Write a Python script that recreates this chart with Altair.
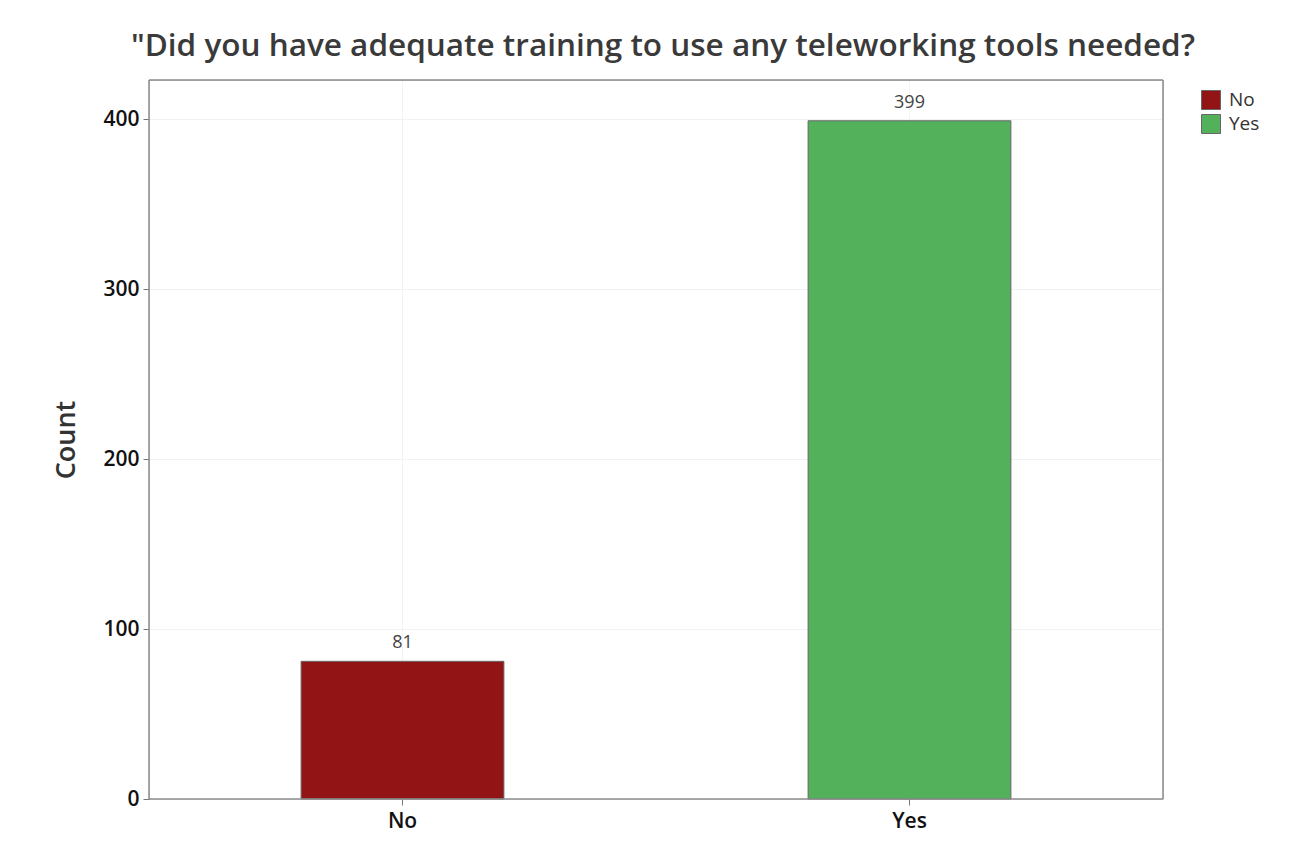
import altair as alt
import pandas as pd

categories = ["No", "Yes"]
counts = [81, 399]
colors = ["#921414", "#53b05b"]

df = pd.DataFrame({"answer": categories, "count": counts})

W, H = 1014, 719

x = alt.X("answer:N", sort=categories, title=None,
          scale=alt.Scale(paddingInner=0.6, paddingOuter=0.3),
          axis=alt.Axis(labelAngle=0, labelFont="Open Sans", labelFontSize=21,
                        labelFontWeight=600, labelColor="#111", labelPadding=5,
                        tickColor="#777", tickSize=6, domain=False,
                        grid=True, gridColor="#f2f2f2"))
y = alt.Y("count:Q", title="Count",
          scale=alt.Scale(domain=[0, 423], nice=False),
          axis=alt.Axis(values=[0, 100, 200, 300, 400], labelFont="Open Sans",
                        labelFontSize=21, labelFontWeight=600, labelColor="#111",
                        tickColor="#777", tickSize=6, labelPadding=4, domain=False,
                        gridColor="#f2f2f2", titleFont="Open Sans", titleFontSize=27,
                        titleFontWeight=600, titleColor="#333", titlePadding=22))

bars = alt.Chart(df).mark_bar(stroke="#666", strokeWidth=1).encode(
    x=x, y=y,
    color=alt.Color("answer:N", sort=categories,
                    scale=alt.Scale(domain=categories, range=colors),
                    legend=alt.Legend(title=None, orient="none", legendX=1052, legendY=10,
                                      symbolType="square", symbolSize=361,
                                      symbolStrokeColor="#666", symbolStrokeWidth=1,
                                      labelFont="Open Sans", labelFontSize=19,
                                      labelColor="#333", rowPadding=0, labelOffset=8)),
)

labels = alt.Chart(df).mark_text(dy=-18, font="Open Sans", fontSize=18, color="#444").encode(
    x=alt.X("answer:N", sort=categories), y="count:Q", text="count:Q"
)

frame = alt.Chart(df).mark_rect(fill=None, stroke="#8a8a8a", strokeWidth=1).encode(
    x=alt.value(0), x2=alt.value(W), y=alt.value(0), y2=alt.value(H)
)

chart = (bars + labels + frame).properties(
    width=W, height=H,
    title=alt.Title("\"Did you have adequate training to use any teleworking tools needed?",
                    font="Open Sans", fontSize=31.5, fontWeight=600, color="#3a3a3a",
                    anchor="middle", offset=17, dx=7),
    padding={"left": 149, "top": 80, "right": 151, "bottom": 63},
    autosize=alt.AutoSizeParams(type="none"),
).configure_view(stroke=None).configure(background="white")

chart.save("out.html", embed_options={"renderer": "svg", "actions": False})
